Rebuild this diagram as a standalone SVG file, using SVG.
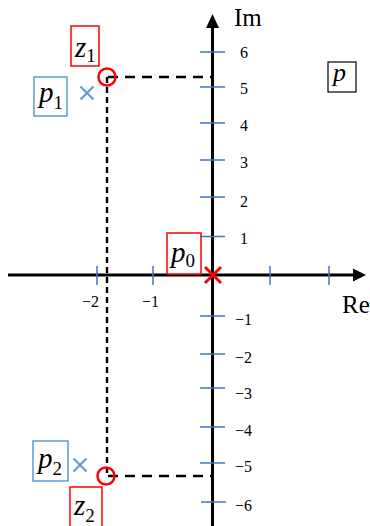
<svg xmlns="http://www.w3.org/2000/svg" width="370" height="526" viewBox="0 0 370 526">
<defs>
<style>
text{font-family:'Liberation Serif','Times New Roman',Times,serif}
.axis{stroke:#000;stroke-width:3;fill:none}
.tick{stroke:#4472C4;stroke-width:1.5}
.num{font-size:16px;fill:#000}
.big{font-size:25px;fill:#000}
.var{font-style:italic;font-size:29px}
.sub{font-size:19px}
.rbox{fill:#fff;stroke:#FF0000;stroke-width:1.5}
.bbox{fill:#fff;stroke:#5B9BD5;stroke-width:1.5}
.kbox{fill:#fff;stroke:#000;stroke-width:1.2}
.dashh{stroke:#000;stroke-width:2.6;stroke-dasharray:10 7;fill:none}
.dashv{stroke:#000;stroke-width:2.4;stroke-dasharray:6 4;fill:none}
.bx{stroke:#5B9BD5;stroke-width:2;fill:none}
</style>
</defs>
<rect width="370" height="526" fill="#fff"/>
<g id="connectors">
<line class="dashv" x1="107" y1="77" x2="107" y2="476"/>
<line class="dashh" x1="108" y1="77" x2="212" y2="77"/>
<line class="dashh" x1="108" y1="476" x2="212" y2="476"/>
</g>
<g id="axes">
<line class="axis" x1="8" y1="275" x2="355" y2="275"/>
<polygon points="366,275 353,268.5 353,281.5" fill="#000"/>
<line class="axis" x1="212.5" y1="526" x2="212.5" y2="26"/>
<polygon points="212.5,14 206,28 219,28" fill="#000"/>
<text class="big" x="234" y="26" font-family="Liberation Serif, serif">Im</text>
<text class="big" x="342" y="313" font-family="Liberation Serif, serif">Re</text>
</g>
<g id="ticks" font-family="Liberation Serif, serif">
<line class="tick" x1="200" y1="52" x2="225" y2="52"/>
<line class="tick" x1="200" y1="87" x2="225" y2="87"/>
<line class="tick" x1="200" y1="123" x2="225" y2="123"/>
<line class="tick" x1="200" y1="160" x2="225" y2="160"/>
<line class="tick" x1="200" y1="197" x2="225" y2="197"/>
<line class="tick" x1="200" y1="236.5" x2="225" y2="236.5"/>
<line class="tick" x1="200" y1="316" x2="225" y2="316"/>
<line class="tick" x1="200" y1="354" x2="225" y2="354"/>
<line class="tick" x1="200" y1="388" x2="225" y2="388"/>
<line class="tick" x1="200" y1="427" x2="225" y2="427"/>
<line class="tick" x1="200" y1="463" x2="225" y2="463"/>
<line class="tick" x1="201" y1="502" x2="226" y2="502"/>
<line class="tick" x1="97" y1="266" x2="97" y2="285"/>
<line class="tick" x1="153" y1="266" x2="153" y2="285"/>
<line class="tick" x1="270" y1="266" x2="270" y2="285"/>
<line class="tick" x1="329" y1="266" x2="329" y2="285"/>
<text class="num" x="240" y="57.5">6</text>
<text class="num" x="240" y="94">5</text>
<text class="num" x="240" y="131">4</text>
<text class="num" x="240" y="168">3</text>
<text class="num" x="240" y="206.5">2</text>
<text class="num" x="240" y="243.5">1</text>
<text class="num" x="235" y="324.5">−1</text>
<text class="num" x="235" y="362.5">−2</text>
<text class="num" x="235" y="398.5">−3</text>
<text class="num" x="235" y="435.5">−4</text>
<text class="num" x="235" y="472">−5</text>
<text class="num" x="235" y="511">−6</text>
<text class="num" x="82" y="307">−2</text>
<text class="num" x="142" y="307">−1</text>
</g>
<g id="z1">
<rect class="rbox" x="71" y="26" width="28" height="40"/>
<text x="75" y="57"><tspan class="var">z</tspan><tspan class="sub" dy="5">1</tspan></text>
<circle cx="107" cy="77" r="8.5" fill="none" stroke="#FF0000" stroke-width="2.5"/>
</g>
<g id="p1">
<rect class="bbox" x="34" y="77" width="33" height="39"/>
<text x="39" y="102"><tspan class="var">p</tspan><tspan class="sub" dy="7">1</tspan></text>
<path class="bx" d="M80.5,86.5 L93.5,99.5 M93.5,86.5 L80.5,99.5"/>
</g>
<g id="p">
<rect class="kbox" x="328" y="62" width="28" height="30"/>
<text class="var" x="333" y="81" style="font-size:26px">p</text>
</g>
<g id="p0">
<rect class="rbox" x="167" y="233" width="34" height="41"/>
<text x="171" y="262"><tspan class="var">p</tspan><tspan class="sub" dy="5">0</tspan></text>
<path d="M205,267 L221,283 M221,267 L205,283" stroke="#FF0000" stroke-width="3" fill="none"/>
</g>
<g id="p2">
<rect class="bbox" x="33" y="441" width="35" height="40"/>
<text x="38" y="468"><tspan class="var">p</tspan><tspan class="sub" dy="7">2</tspan></text>
<path class="bx" d="M73.5,458.5 L86.5,471.5 M86.5,458.5 L73.5,471.5"/>
</g>
<g id="z2">
<rect class="rbox" x="70" y="487" width="32" height="45"/>
<text x="74" y="515"><tspan class="var">z</tspan><tspan class="sub" dy="7">2</tspan></text>
<circle cx="106" cy="476" r="8.5" fill="none" stroke="#FF0000" stroke-width="2.5"/>
</g>
</svg>
